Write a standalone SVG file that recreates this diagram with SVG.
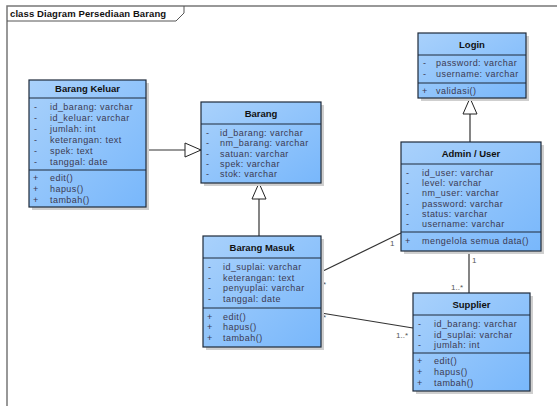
<svg xmlns="http://www.w3.org/2000/svg" width="557" height="406" viewBox="0 0 557 406">
<defs>
<linearGradient id="g" x1="0" y1="0" x2="1" y2="1">
<stop offset="0" stop-color="#a9d1fb"/>
<stop offset="1" stop-color="#78b7fb"/>
</linearGradient>
<marker id="tri" viewBox="0 0 18 16" refX="17" refY="8" markerWidth="18" markerHeight="16" markerUnits="userSpaceOnUse" orient="auto">
<path d="M1,1 L17,8 L1,15 Z" fill="#ffffff" stroke="#222" stroke-width="1"/>
</marker>
</defs>
<style>
.box{fill:url(#g);stroke:#1e2a3a;stroke-width:1.2}
.sh{fill:#cfcfcf}
.div{stroke:#1e2a3a;stroke-width:1}
.t{font-family:"Liberation Sans",Arial,sans-serif;font-size:9.5px;font-weight:bold;fill:#111;text-anchor:middle}
.a{font-family:"Liberation Sans",Arial,sans-serif;font-size:9px;fill:#3c3a52;letter-spacing:0.45px}
.m{font-family:"Liberation Sans",Arial,sans-serif;font-size:9px;fill:#3c3a52;letter-spacing:0.45px}
.c{stroke:#333;stroke-width:1.2;fill:none}
.l{font-family:"Liberation Sans",Arial,sans-serif;font-size:8px;fill:#555}
.f{font-family:"Liberation Sans",Arial,sans-serif;font-size:9.5px;font-weight:bold;fill:#111;letter-spacing:0.1px}
</style>
<rect width="557" height="406" fill="#fff"/>
<g id="frame">
<path d="M7,406 V6 H557" fill="none" stroke="#777" stroke-width="1.5"/>
<path d="M7,21 H176 L184,13 V6" fill="none" stroke="#555" stroke-width="1"/>
<text class="f" x="10" y="17">class Diagram Persediaan Barang</text>
</g>
<g id="connectors">
<line class="c" x1="146" y1="150" x2="201" y2="150" marker-end="url(#tri)"/>
<line class="c" x1="259" y1="236" x2="259" y2="183" marker-end="url(#tri)"/>
<line class="c" x1="470" y1="142" x2="470" y2="98" marker-end="url(#tri)"/>
<line class="c" x1="321" y1="272" x2="401" y2="233"/>
<line class="c" x1="321" y1="313" x2="413" y2="328"/>
<line class="c" x1="469" y1="251" x2="469" y2="293"/>
<text class="l" x="323" y="287">*</text>
<text class="l" x="390" y="246">1</text>
<text class="l" x="323" y="320">*</text>
<text class="l" x="396" y="338">1..*</text>
<text class="l" x="472" y="263">1</text>
<text class="l" x="451" y="290">1..*</text>
</g>
<g id="barang-keluar">
<rect class="sh" x="32" y="83" width="117" height="127"/>
<rect class="box" x="29" y="80" width="117" height="127"/>
<line class="div" x1="29" y1="98" x2="146" y2="98"/>
<line class="div" x1="29" y1="170" x2="146" y2="170"/>
<text class="t" x="87.5" y="92">Barang Keluar</text>
<text class="a" x="34" y="110">-</text><text class="a" x="50" y="110">id_barang: varchar</text>
<text class="a" x="34" y="121">-</text><text class="a" x="50" y="121">id_keluar: varchar</text>
<text class="a" x="34" y="132">-</text><text class="a" x="50" y="132">jumlah: int</text>
<text class="a" x="34" y="143">-</text><text class="a" x="50" y="143">keterangan: text</text>
<text class="a" x="34" y="154">-</text><text class="a" x="50" y="154">spek: text</text>
<text class="a" x="34" y="165">-</text><text class="a" x="50" y="165">tanggal: date</text>
<text class="m" x="33" y="181">+</text><text class="m" x="50" y="181">edit()</text>
<text class="m" x="33" y="192">+</text><text class="m" x="50" y="192">hapus()</text>
<text class="m" x="33" y="203">+</text><text class="m" x="50" y="203">tambah()</text>
</g>
<g id="barang">
<rect class="sh" x="204" y="105" width="120" height="81"/>
<rect class="box" x="201" y="102" width="120" height="81"/>
<line class="div" x1="201" y1="124" x2="321" y2="124"/>
<text class="t" x="261" y="117">Barang</text>
<text class="a" x="206" y="136">-</text><text class="a" x="220" y="136">id_barang: varchar</text>
<text class="a" x="206" y="146">-</text><text class="a" x="220" y="146">nm_barang: varchar</text>
<text class="a" x="206" y="157">-</text><text class="a" x="220" y="157">satuan: varchar</text>
<text class="a" x="206" y="167">-</text><text class="a" x="220" y="167">spek: varchar</text>
<text class="a" x="206" y="177">-</text><text class="a" x="220" y="177">stok: varchar</text>
</g>
<g id="login">
<rect class="sh" x="421" y="36" width="108" height="65"/>
<rect class="box" x="418" y="33" width="108" height="65"/>
<line class="div" x1="418" y1="55" x2="526" y2="55"/>
<line class="div" x1="418" y1="83" x2="526" y2="83"/>
<text class="t" x="472" y="48">Login</text>
<text class="a" x="423" y="66">-</text><text class="a" x="436" y="66">password: varchar</text>
<text class="a" x="423" y="77">-</text><text class="a" x="436" y="77">username: varchar</text>
<text class="m" x="422" y="94">+</text><text class="m" x="436" y="94">validasi()</text>
</g>
<g id="admin-user">
<rect class="sh" x="404" y="145" width="140" height="109"/>
<rect class="box" x="401" y="142" width="140" height="109"/>
<line class="div" x1="401" y1="164" x2="541" y2="164"/>
<line class="div" x1="401" y1="232" x2="541" y2="232"/>
<text class="t" x="471" y="157">Admin / User</text>
<text class="a" x="406" y="176">-</text><text class="a" x="422" y="176">id_user: varchar</text>
<text class="a" x="406" y="186">-</text><text class="a" x="422" y="186">level: varchar</text>
<text class="a" x="406" y="196">-</text><text class="a" x="422" y="196">nm_user: varchar</text>
<text class="a" x="406" y="207">-</text><text class="a" x="422" y="207">password: varchar</text>
<text class="a" x="406" y="217">-</text><text class="a" x="422" y="217">status: varchar</text>
<text class="a" x="406" y="227">-</text><text class="a" x="422" y="227">username: varchar</text>
<text class="m" x="405" y="244">+</text><text class="m" x="422" y="244">mengelola semua data()</text>
</g>
<g id="barang-masuk">
<rect class="sh" x="206" y="239" width="118" height="111"/>
<rect class="box" x="203" y="236" width="118" height="111"/>
<line class="div" x1="203" y1="258" x2="321" y2="258"/>
<line class="div" x1="203" y1="308" x2="321" y2="308"/>
<text class="t" x="262" y="251">Barang Masuk</text>
<text class="a" x="208" y="270">-</text><text class="a" x="223" y="270">id_suplai: varchar</text>
<text class="a" x="208" y="281">-</text><text class="a" x="223" y="281">keterangan: text</text>
<text class="a" x="208" y="291">-</text><text class="a" x="223" y="291">penyuplai: varchar</text>
<text class="a" x="208" y="302">-</text><text class="a" x="223" y="302">tanggal: date</text>
<text class="m" x="207" y="320">+</text><text class="m" x="223" y="320">edit()</text>
<text class="m" x="207" y="330">+</text><text class="m" x="223" y="330">hapus()</text>
<text class="m" x="207" y="341">+</text><text class="m" x="223" y="341">tambah()</text>
</g>
<g id="supplier">
<rect class="sh" x="416" y="296" width="117" height="98"/>
<rect class="box" x="413" y="293" width="117" height="98"/>
<line class="div" x1="413" y1="315" x2="530" y2="315"/>
<line class="div" x1="413" y1="353" x2="530" y2="353"/>
<text class="t" x="471.5" y="308">Supplier</text>
<text class="a" x="418" y="327">-</text><text class="a" x="434" y="327">id_barang: varchar</text>
<text class="a" x="418" y="338">-</text><text class="a" x="434" y="338">id_suplai: varchar</text>
<text class="a" x="418" y="348">-</text><text class="a" x="434" y="348">jumlah: int</text>
<text class="m" x="417" y="364">+</text><text class="m" x="434" y="364">edit()</text>
<text class="m" x="417" y="375">+</text><text class="m" x="434" y="375">hapus()</text>
<text class="m" x="417" y="386">+</text><text class="m" x="434" y="386">tambah()</text>
</g>
</svg>
